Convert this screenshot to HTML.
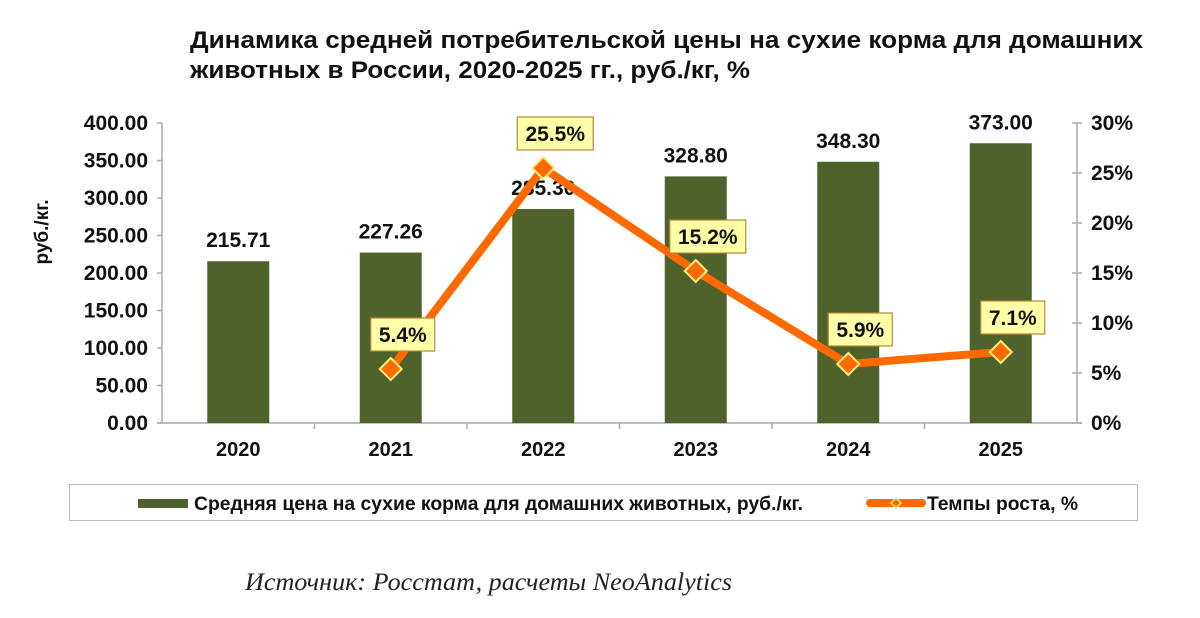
<!DOCTYPE html>
<html><head><meta charset="utf-8"><style>
body{margin:0;background:#fff;}
svg{display:block;font-family:"Liberation Sans",Arial,sans-serif;}
</style></head><body>
<svg id="chart" width="1200" height="618" viewBox="0 0 1200 618" xmlns="http://www.w3.org/2000/svg">
<text x="190" y="48" font-size="24" font-weight="bold" fill="#111" textLength="953" lengthAdjust="spacingAndGlyphs">Динамика средней потребительской цены на сухие корма для домашних</text>
<text x="190" y="78" font-size="24" font-weight="bold" fill="#111" textLength="560" lengthAdjust="spacingAndGlyphs">животных в России, 2020-2025 гг., руб./кг, %</text>
<text transform="translate(48,232) rotate(-90)" text-anchor="middle" font-size="19" font-weight="bold" fill="#111">руб./кг.</text>
<g id="axes"></g>
<g id="bars"></g>
<g id="line"></g>
<g id="legend">
<rect x="69.5" y="484.5" width="1068" height="36" fill="#fff" stroke="#bbb"/>
<rect x="138" y="499" width="50" height="9" fill="#4f622b"/>
<text x="194" y="510" font-size="19" font-weight="bold" fill="#111" textLength="609" lengthAdjust="spacingAndGlyphs">Средняя цена на сухие корма для домашних животных, руб./кг.</text>
<line x1="870" y1="503" x2="922" y2="503" stroke="#ff6a00" stroke-width="8" stroke-linecap="round"/>
<path d="M896 498 L901 503 L896 508 L891 503Z" fill="#ff6a00" stroke="#ffec80" stroke-width="1.5"/>
<text x="927" y="510" font-size="19" font-weight="bold" fill="#111" textLength="151" lengthAdjust="spacingAndGlyphs">Темпы роста, %</text>
</g>
<text x="245" y="590" font-family="Liberation Serif,serif" font-style="italic" font-size="25" fill="#222" textLength="487" lengthAdjust="spacingAndGlyphs">Источник: Росстат, расчеты NeoAnalytics</text>
</svg>
<script>
const categories=["2020","2021","2022","2023","2024","2025"];
const prices=[215.71,227.26,285.30,328.80,348.30,373.00];
const growth=[null,5.4,25.5,15.2,5.9,7.1];
const leftTicks=[0,50,100,150,200,250,300,350,400];
const rightTicks=[0,5,10,15,20,25,30];
const NS="http://www.w3.org/2000/svg";
const X0=162,X1=1077,Y0=423,Y1=123;
const cw=(X1-X0)/categories.length;
const xc=i=>X0+cw*(i+0.5);
const yL=v=>Y0-(v/400)*(Y0-Y1);
const yR=v=>Y0-(v/30)*(Y0-Y1);
function mk(tag,attrs,parent,txt){const e=document.createElementNS(NS,tag);for(const k in attrs)e.setAttribute(k,attrs[k]);if(txt!==undefined)e.textContent=txt;parent.appendChild(e);return e;}
const axes=document.getElementById('axes'),bars=document.getElementById('bars'),line=document.getElementById('line');
mk('line',{x1:X0,y1:Y1,x2:X0,y2:Y0,stroke:'#aaa','stroke-width':1.5},axes);
mk('line',{x1:X1,y1:Y1,x2:X1,y2:Y0,stroke:'#aaa','stroke-width':1.5},axes);
mk('line',{x1:X0-5,y1:Y0,x2:X1+5,y2:Y0,stroke:'#aaa','stroke-width':1.5},axes);
leftTicks.forEach(v=>{const y=yL(v);
mk('line',{x1:X0-5,y1:y,x2:X0,y2:y,stroke:'#aaa','stroke-width':1.5},axes);
const t=mk('text',{x:X0-14,y:y+7,'text-anchor':'end','font-size':21,'font-weight':'bold',fill:'#111'},axes,v.toFixed(2));

});
rightTicks.forEach(v=>{const y=yR(v);
mk('line',{x1:X1-5,y1:y,x2:X1+5,y2:y,stroke:'#aaa','stroke-width':1.5},axes);
const t=mk('text',{x:X1+14,y:y+7,'font-size':21,'font-weight':'bold',fill:'#111'},axes,v+'%');

});
categories.forEach((c,i)=>{
if(i>0)mk('line',{x1:X0+cw*i,y1:Y0,x2:X0+cw*i,y2:Y0+6,stroke:'#aaa','stroke-width':1.5},axes);
const t=mk('text',{x:xc(i),y:Y0+33,'text-anchor':'middle','font-size':20,'font-weight':'bold',fill:'#111'},axes,c);


const y=yL(prices[i]);
const b=mk('rect',{x:xc(i)-31,y:y,width:62,height:Y0-y,fill:'#4f622b'},bars);


const l=mk('text',{x:xc(i),y:y-14,'text-anchor':'middle','font-size':21,'font-weight':'bold',fill:'#111'},bars,prices[i].toFixed(2));

});
const pts=[];growth.forEach((g,i)=>{if(g!==null)pts.push([xc(i),yR(g),g]);});
const pl=mk('polyline',{points:pts.map(p=>p[0]+','+p[1]).join(' '),fill:'none',stroke:'#ff6a00','stroke-width':8,'stroke-linejoin':'round'},line);


pts.forEach(p=>{const [x,y]=p;
const m=mk('path',{d:`M${x} ${y-11} L${x+11} ${y} L${x} ${y+11} L${x-11} ${y}Z`,fill:'#ff6a00',stroke:'#ffec80','stroke-width':2},line);

});
pts.forEach(p=>{const [x,y,g]=p;const cx=x+12,cy=y-35;const w=g>=10?76:64;
const r=mk('rect',{x:cx-w/2,y:cy-16,width:w,height:33,fill:'#ffffa8',stroke:'#b8863b','stroke-width':1.2},line);


const t=mk('text',{x:cx,y:cy+8,'text-anchor':'middle','font-size':21,'font-weight':'bold',fill:'#111'},line,g.toFixed(1)+'%');

});
</script>
</body></html>
